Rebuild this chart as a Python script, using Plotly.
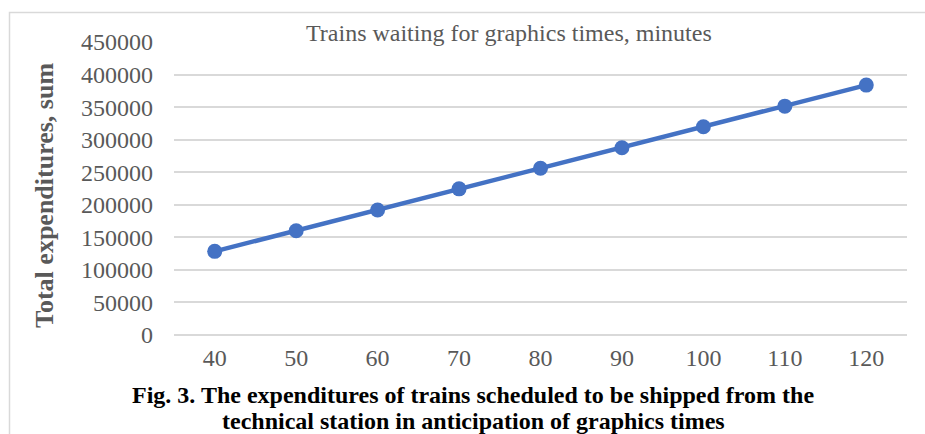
import plotly.graph_objects as go

# Waiting time before scheduled departure, minutes
wait_minutes = ["40", "50", "60", "70", "80", "90", "100", "110", "120"]
# Total expenditures, sum
total_expenditures = [128500, 160200, 192000, 224500, 256000, 287700, 319800, 351500, 383800]
y_ticks = [0, 50000, 100000, 150000, 200000, 250000, 300000, 350000, 400000, 450000]

W, H = 925, 434
L, R, T, B = 174, 18, 42, 99
pw, ph = W - L - R, H - T - B

def px_x(x):
    return (x - L) / pw

def px_y(y):
    return (H - B - y) / ph

fig = go.Figure()
fig.add_trace(go.Scatter(
    x=wait_minutes, y=total_expenditures, mode="lines+markers",
    line=dict(color="#4472C4", width=4.5),
    marker=dict(color="#4472C4", size=15),
    showlegend=False, cliponaxis=False,
))

grey = "#595959"
fig.update_layout(
    width=W, height=H,
    margin=dict(l=L, r=R, t=T, b=B),
    paper_bgcolor="white", plot_bgcolor="white",
    font=dict(family="Liberation Serif", color=grey, size=24),
    xaxis=dict(type="category", range=[-0.5, len(wait_minutes) - 0.5],
               showgrid=False, showline=False, zeroline=False,
               tickfont=dict(size=24, color=grey), ticks="", ticklabelstandoff=6,
               fixedrange=True),
    yaxis=dict(range=[0, 450000], tickvals=y_ticks, showgrid=True,
               gridcolor="#d9d9d9", gridwidth=1.5, zeroline=True,
               zerolinecolor="#d9d9d9", zerolinewidth=1.5, showline=False,
               tickfont=dict(size=24, color=grey), ticks="", ticklabelstandoff=20,
               tickformat="d"),
    shapes=[dict(type="rect", xref="paper", yref="paper",
                 x0=px_x(9.5), x1=px_x(940), y0=px_y(450), y1=px_y(12.5),
                 line=dict(color="#d9d9d9", width=1.5), fillcolor="rgba(0,0,0,0)",
                 layer="below")],
    annotations=[
        dict(text="Trains waiting for graphics times, minutes", xref="paper", yref="paper",
             x=px_x(509), y=px_y(33), xanchor="center", yanchor="middle",
             showarrow=False, font=dict(size=24, color=grey)),
        dict(text="<b>Total expenditures, sum</b>", xref="paper", yref="paper",
             x=px_x(44), y=px_y(196), xanchor="center", yanchor="middle",
             textangle=-90, showarrow=False, font=dict(size=26, color=grey)),
        dict(text="<b>Fig. 3. The expenditures of trains scheduled to be shipped from the</b>",
             xref="paper", yref="paper", x=px_x(473), y=px_y(395),
             xanchor="center", yanchor="middle", showarrow=False,
             font=dict(size=24, color="black")),
        dict(text="<b>technical station in anticipation of graphics times</b>",
             xref="paper", yref="paper", x=px_x(473), y=px_y(421),
             xanchor="center", yanchor="middle", showarrow=False,
             font=dict(size=24, color="black")),
    ],
)

fig.write_html("out.html")
